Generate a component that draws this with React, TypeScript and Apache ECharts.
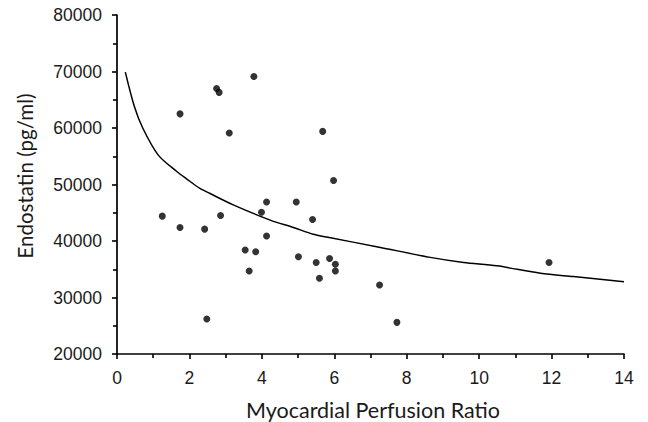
import React, { useEffect, useRef } from "react";
import * as echarts from "echarts";

const perfusionRatio = [
  1.25, 1.74, 1.74, 2.42, 2.48, 2.75, 2.82, 2.86, 3.1, 3.54, 3.65, 3.78, 3.83, 3.99, 4.13,
  4.13, 4.95, 5.01, 5.4, 5.5, 5.59, 5.68, 5.87, 5.98, 6.03, 6.03, 7.25, 7.73, 11.93,
];
const endostatin = [
  44400, 62500, 42400, 42100, 26200, 67000, 66300, 44500, 59100, 38400, 34700, 69100, 38100,
  45100, 46900, 40900, 46900, 37200, 43800, 36200, 33400, 59400, 36900, 50700, 35900, 34700,
  32200, 25600, 36200,
];

const fitX = [0.23, 0.48, 0.71, 1.14, 1.65, 1.92, 2.29, 2.57, 3.21, 4.23, 4.87, 5.42, 5.86, 7.17, 8.65, 9.57, 10.49, 11.69, 12.6, 14];
const fitY = [69900, 63800, 60000, 55200, 52300, 51000, 49300, 48400, 46400, 43700, 42400, 41200, 40600, 39000, 37100, 36200, 35600, 34300, 33700, 32800];

const xTitle = "Myocardial Perfusion Ratio";
const yTitle = "Endostatin (pg/ml)";

export default function App() {
  const ref = useRef<HTMLDivElement>(null);
  useEffect(() => {
    if (!ref.current) return;
    const chart = echarts.init(ref.current, undefined, { renderer: "svg" });
    const mkAxis = () => ({
      axisLine: { show: true, onZero: false, lineStyle: { color: "#000", width: 1.7 } },
      axisTick: { show: true, inside: false, length: 5, lineStyle: { color: "#000", width: 1.6 } },
      minorTick: { show: true, splitNumber: 2, length: 4, lineStyle: { color: "#000", width: 1.6 } },
      splitLine: { show: false },
      minorSplitLine: { show: false },
    });
    chart.setOption({
      animation: false,
      backgroundColor: "#fff",
      grid: { left: 117, right: 24, top: 15, bottom: 68, containLabel: false },
      xAxis: {
        type: "value",
        min: 0,
        max: 14,
        interval: 2,
        ...mkAxis(),
        axisLabel: { color: "#1a1a1a", fontSize: 17.5, fontFamily: "Liberation Sans", margin: 15 },
      },
      yAxis: {
        type: "value",
        min: 20000,
        max: 80000,
        interval: 10000,
        ...mkAxis(),
        axisLabel: {
          color: "#1a1a1a",
          fontSize: 17.5,
          fontFamily: "Liberation Sans",
          margin: 15,
          formatter: (v: number) => String(v),
        },
      },
      graphic: [
        {
          type: "text",
          x: 373,
          y: 410,
          style: { text: xTitle, fill: "#1a1a1a", fontSize: 21.5, fontFamily: "Lato", align: "center", verticalAlign: "middle" },
        },
        {
          type: "text",
          x: 25,
          y: 176,
          rotation: Math.PI / 2,
          style: { text: yTitle, fill: "#1a1a1a", fontSize: 20.5, fontFamily: "Lato", align: "center", verticalAlign: "middle" },
        },
      ],
      series: [
        {
          type: "scatter",
          data: perfusionRatio.map((x, i) => [x, endostatin[i]]),
          symbol: "circle",
          symbolSize: 7,
          itemStyle: { color: "#000" },
        },
        {
          type: "line",
          data: fitX.map((x, i) => [x, fitY[i]]),
          showSymbol: false,
          smooth: 0.3,
          lineStyle: { color: "#000", width: 1.5 },
        },
      ],
    });
    return () => chart.dispose();
  }, []);
  return <div ref={ref} style={{ width: 648, height: 422, position: "absolute", left: 0, top: 0 }} />;
}
